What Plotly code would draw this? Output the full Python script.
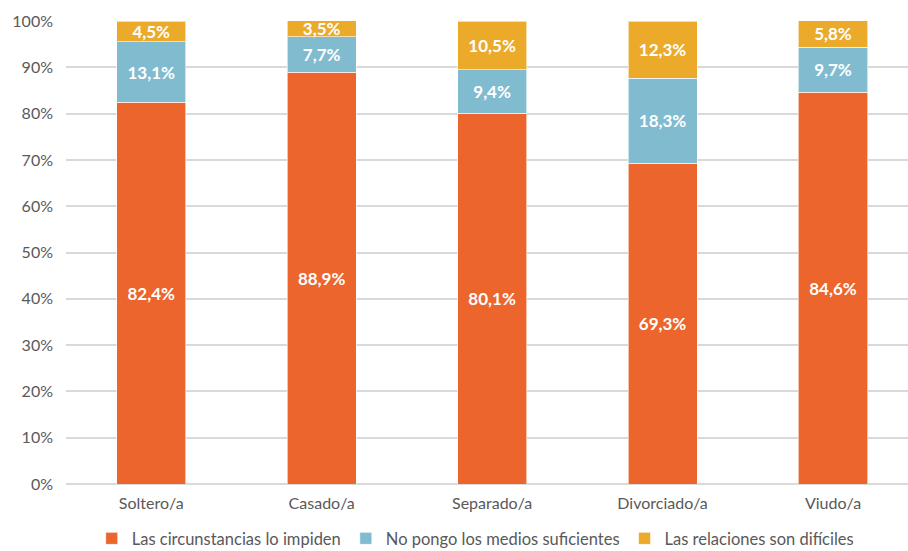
import plotly.graph_objects as go

categories = ["Soltero/a", "Casado/a", "Separado/a", "Divorciado/a", "Viudo/a"]
series_names = ["Las circunstancias lo impiden", "No pongo los medios suficientes", "Las relaciones son difíciles"]
circunstancias = [82.4, 88.9, 80.1, 69.3, 84.6]
medios = [13.1, 7.7, 9.4, 18.3, 9.7]
relaciones = [4.5, 3.5, 10.5, 12.3, 5.8]
y_ticks = [0, 10, 20, 30, 40, 50, 60, 70, 80, 90, 100]
y_tick_labels = [f"{v}%" for v in y_ticks]

colors = ["#EB652C", "#81BBCF", "#EBAA2A"]
font_family = "Lato, 'Open Sans', sans-serif"

fig = go.Figure()
for name, vals, col in zip(series_names, [circunstancias, medios, relaciones], colors):
    fig.add_trace(go.Bar(
        name=name, x=categories, y=vals,
        marker=dict(color=col, line=dict(color="rgba(255,255,255,0.6)", width=1)),
        text=[f"{v:.1f}%".replace(".", ",") for v in vals],
        textposition="inside", insidetextanchor="middle",
        textfont=dict(color="white", size=17, family=font_family, weight="bold"),
        width=0.405,
    ))

fig.update_layout(
    barmode="stack",
    width=908, height=551,
    margin=dict(l=66, r=0, t=21, b=67, autoexpand=False),
    plot_bgcolor="white", paper_bgcolor="white",
    font=dict(family=font_family, color="#595959", size=16),
    showlegend=True,
    legend=dict(orientation="h", x=0.486, xanchor="center", y=-0.118, yanchor="middle",
                font=dict(size=16.5, color="#595959"), traceorder="normal"),
    uniformtext=dict(mode="show", minsize=17),
)
fig.update_xaxes(range=[-0.5, 4.44], showgrid=False, showline=False, ticks="",
                 tickfont=dict(size=16, color="#595959"), ticklabelstandoff=8)
fig.update_yaxes(range=[0, 100], tickvals=y_ticks, ticktext=y_tick_labels,
                 showgrid=True, gridcolor="#D9D9D9", gridwidth=2, zeroline=True,
                 zerolinecolor="#D9D9D9", zerolinewidth=2, showline=False,
                 tickfont=dict(size=16, color="#595959"), ticks="", ticklen=0,
                 ticklabelstandoff=12)

fig.write_html("out.html")
